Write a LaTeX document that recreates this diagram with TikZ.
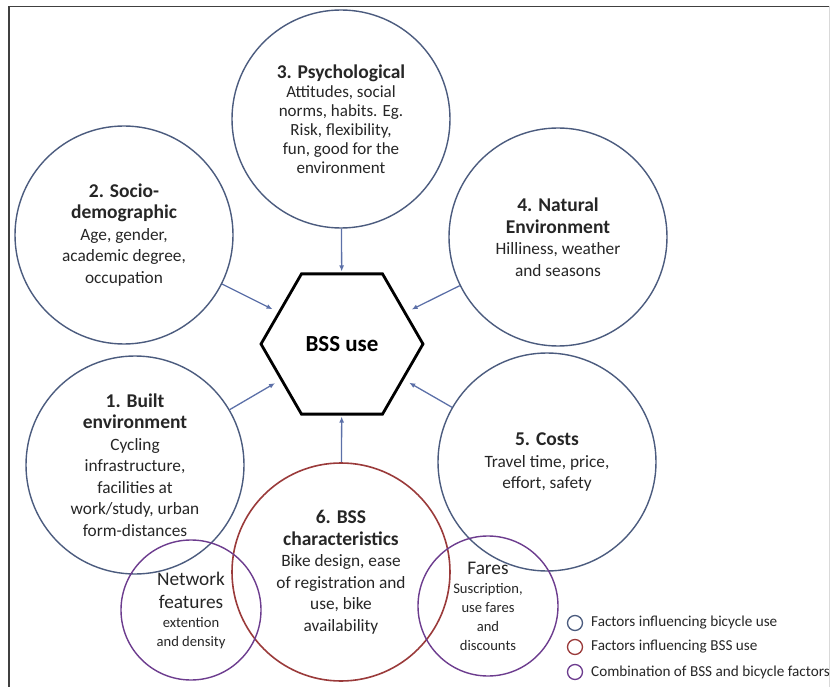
\documentclass[tikz,border=0pt]{standalone}
\usepackage{fontspec}
\setmainfont{Carlito}
\usetikzlibrary{shapes.geometric,arrows.meta}
\definecolor{bikeblue}{HTML}{4B5B7E}
\definecolor{arrowblue}{HTML}{5C70A8}
\definecolor{bssred}{HTML}{9A3A3A}
\definecolor{mixpurple}{HTML}{6C3C8E}
\newcommand{\fhead}[1]{{\fontsize{19.5}{23}\selectfont\bfseries #1}}
\newcommand{\fbig}[1]{{\fontsize{19.3}{23}\selectfont #1}}
\tikzset{
  factor/.style={circle, draw=bikeblue, line width=1.4pt, minimum size=218pt, inner sep=0pt,
    align=center, text=black!85, font=\fontsize{17.3}{21.5}\selectfont},
  bssfactor/.style={factor, draw=bssred, line width=1.6pt},
  mixfactor/.style={factor, draw=mixpurple, minimum size=140pt, font=\fontsize{14.6}{19}\selectfont},
  arr/.style={draw=arrowblue, line width=1.3pt, -{Latex[length=6pt,width=5pt]}},
  key/.style={circle, draw, line width=1.3pt, minimum size=15pt, inner sep=0pt},
  keytext/.style={anchor=west, inner sep=0pt, text=black!85, font=\fontsize{15.2}{18}\selectfont}
}
\begin{document}
\begin{tikzpicture}[x=1pt, y=-1pt]
\useasboundingbox (0,0) rectangle (831,687);
\draw[black!75, line width=1.5pt] (9,687) -- (9,6.5) -- (830,6.5);
\draw[black!15, line width=1pt] (829,6.5) -- (829,687);
\node[factor, font=\fontsize{17}{19}\selectfont] (f3) at (341,119)
  {\fhead{3. Psychological}\\ Attitudes, social\\ norms, habits. Eg.\\ Risk, flexibility,\\ fun, good for the\\ environment};
\node[factor] (f2) at (124,235)
  {\fhead{2. Socio-}\\ \fhead{demographic}\\ Age, gender,\\ academic degree,\\ occupation};
\node[factor] (f4) at (558,237)
  {\fhead{4. Natural}\\ \fhead{Environment}\\ Hilliness, weather\\ and seasons};
\node[factor] (f1) at (135,465)
  {\fhead{1. Built}\\ \fhead{environment}\\ Cycling\\ infrastructure,\\ facilities at\\ work/study, urban\\ form-distances};
\node[factor] (f5) at (547,462)
  {\fhead{5. Costs}\\ Travel time, price,\\ effort, safety};
\node[bssfactor] (f6) at (341,572)
  {\fhead{6. BSS}\\ \fhead{characteristics}\\ Bike design, ease\\ of registration and\\ use, bike\\ availability};
\node[mixfactor] (net) at (191,610)
  {\fbig{Network}\\[4pt] \fbig{features}\\ extention\\ and density};
\node[mixfactor] (fare) at (488,606)
  {\fbig{Fares}\\ Suscription,\\ use fares\\ and\\ discounts};
\node[regular polygon, regular polygon sides=6, draw, line width=2.8pt, minimum size=162pt,
  inner sep=0pt, font=\fontsize{23}{27}\selectfont\bfseries] (hex) at (342,344) {BSS use};
\foreach \x in {1,2,4,5} {\draw[arr, shorten >=6pt] (f\x)--(hex);}
\foreach \x in {3,6} {\draw[arr, shorten >=1pt] (f\x)--(hex);}
\node[key, draw=bikeblue] (k1) at (575,623) {};
\node[key, draw=bssred] (k2) at (575,647) {};
\node[key, draw=mixpurple] (k3) at (575,672) {};
\node[keytext] (t1) at (591,623) {Factors influencing bicycle use};
\node[keytext] (t2) at (591,647) {Factors influencing BSS use};
\node[keytext] (t3) at (591,672) {Combination of BSS and bicycle factors};
\end{tikzpicture}
\end{document}
